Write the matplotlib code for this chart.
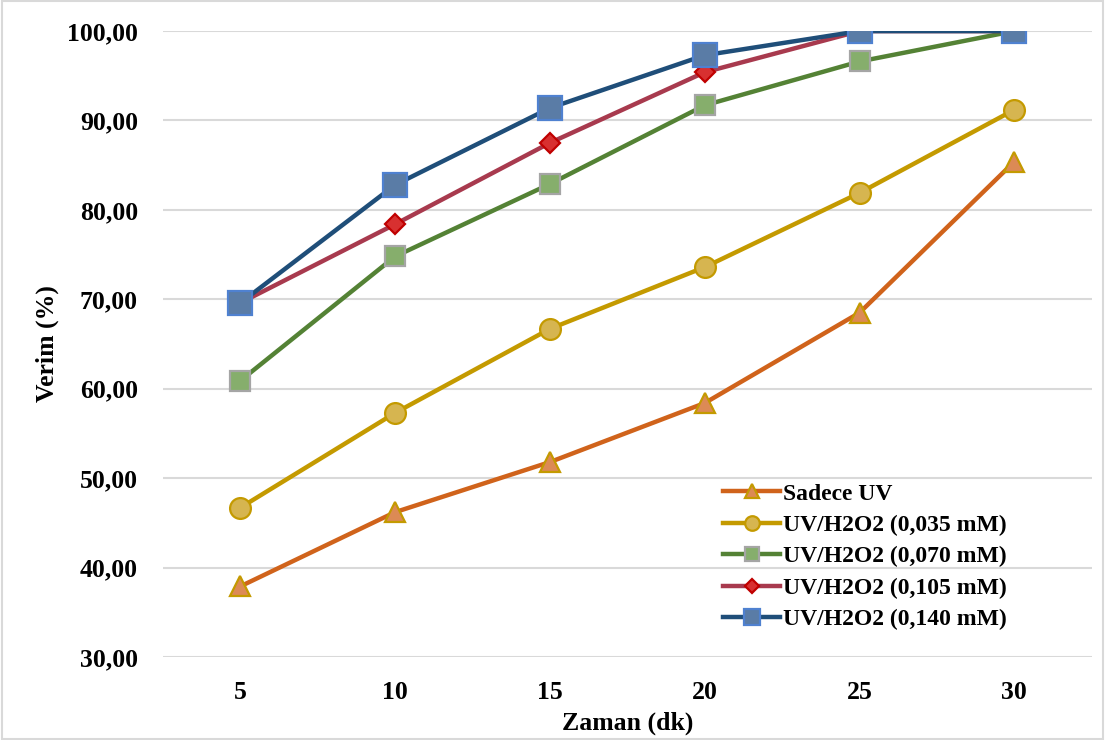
import matplotlib.pyplot as plt
from matplotlib.patches import Rectangle

plt.rcParams["font.family"] = ["Liberation Serif", "DejaVu Serif"]
plt.rcParams["font.weight"] = "bold"

# veriler
zaman = ['5', '10', '15', '20', '25', '30']
sadece_uv = [37.9, 46.2, 51.8, 58.4, 68.5, 85.4]
h2o2_035 = [46.7, 57.3, 66.7, 73.6, 81.9, 91.2]
h2o2_070 = [60.9, 74.8, 82.9, 91.7, 96.6, 100.0]
h2o2_105 = [69.6, 78.4, 87.5, 95.4, 100.0, 100.0]
h2o2_140 = [69.6, 82.8, 91.4, 97.3, 100.0, 100.0]

etiketler = ['Sadece UV', 'UV/H2O2 (0,035 mM)', 'UV/H2O2 (0,070 mM)',
             'UV/H2O2 (0,105 mM)', 'UV/H2O2 (0,140 mM)']
seriler = [sadece_uv, h2o2_035, h2o2_070, h2o2_105, h2o2_140]

# stil: çizgi rengi, işaret, işaret kenarı, işaret yüzü, boyut
stiller = [
    ('#D0631B', '^', '#C49A00', '#DC8A55', 15),
    ('#C49A00', 'o', '#C49A00', '#D6B550', 15),
    ('#548235', 's', '#A5A5A5', '#86AE6C', 14),
    ('#A83A4E', 'D', '#C00000', '#D83030', 10),
    ('#1F4E79', 's', '#4F81D0', '#5A7CA6', 17),
]

fig = plt.figure(figsize=(11.05, 7.4), dpi=100)
ax = fig.add_axes([0.1475, 0.1122, 0.8405, 0.8458])

x = range(len(zaman))
for veri, ad, (renk, m, kenar, yuz, ms) in zip(seriler, etiketler, stiller):
    ax.plot(x, veri, color=renk, linewidth=3.2, marker=m, markersize=ms,
            markeredgecolor=kenar, markerfacecolor=yuz, markeredgewidth=1.6,
            label=ad, zorder=3)

ax.set_xlim(-0.5, len(zaman) - 0.5)
ax.set_ylim(30, 100)
ax.set_yticks(range(30, 101, 10))
ax.set_yticklabels([f'{v},00' for v in range(30, 101, 10)])
ax.set_xticks(list(x))
ax.set_xticklabels(zaman)
ax.tick_params(length=0, labelsize=18.5)
ax.tick_params(axis='y', pad=18)
ax.tick_params(axis='x', pad=17)
ax.grid(axis='y', color='#D9D9D9', linewidth=1.5)
ax.set_axisbelow(True)
for s in ax.spines.values():
    s.set_visible(False)

ax.set_xlabel('Zaman (dk)', fontsize=18.5, fontweight='bold', labelpad=6)
ax.set_ylabel('Verim (%)', fontsize=18.5, fontweight='bold', labelpad=6)

ax.legend(loc='lower left', bbox_to_anchor=(0.588, 0.02), frameon=False,
          prop={'size': 17, 'weight': 'bold'}, handlelength=2.4,
          handletextpad=0.15, labelspacing=0.42, markerscale=0.7,
          borderaxespad=0.2)

# grafik alanı çerçevesi
fig.patches.append(Rectangle((0.002, 0.002), 0.996, 0.996, transform=fig.transFigure,
                             fill=False, edgecolor='#D9D9D9', linewidth=1.5))

fig.savefig('out.png', dpi=100)
